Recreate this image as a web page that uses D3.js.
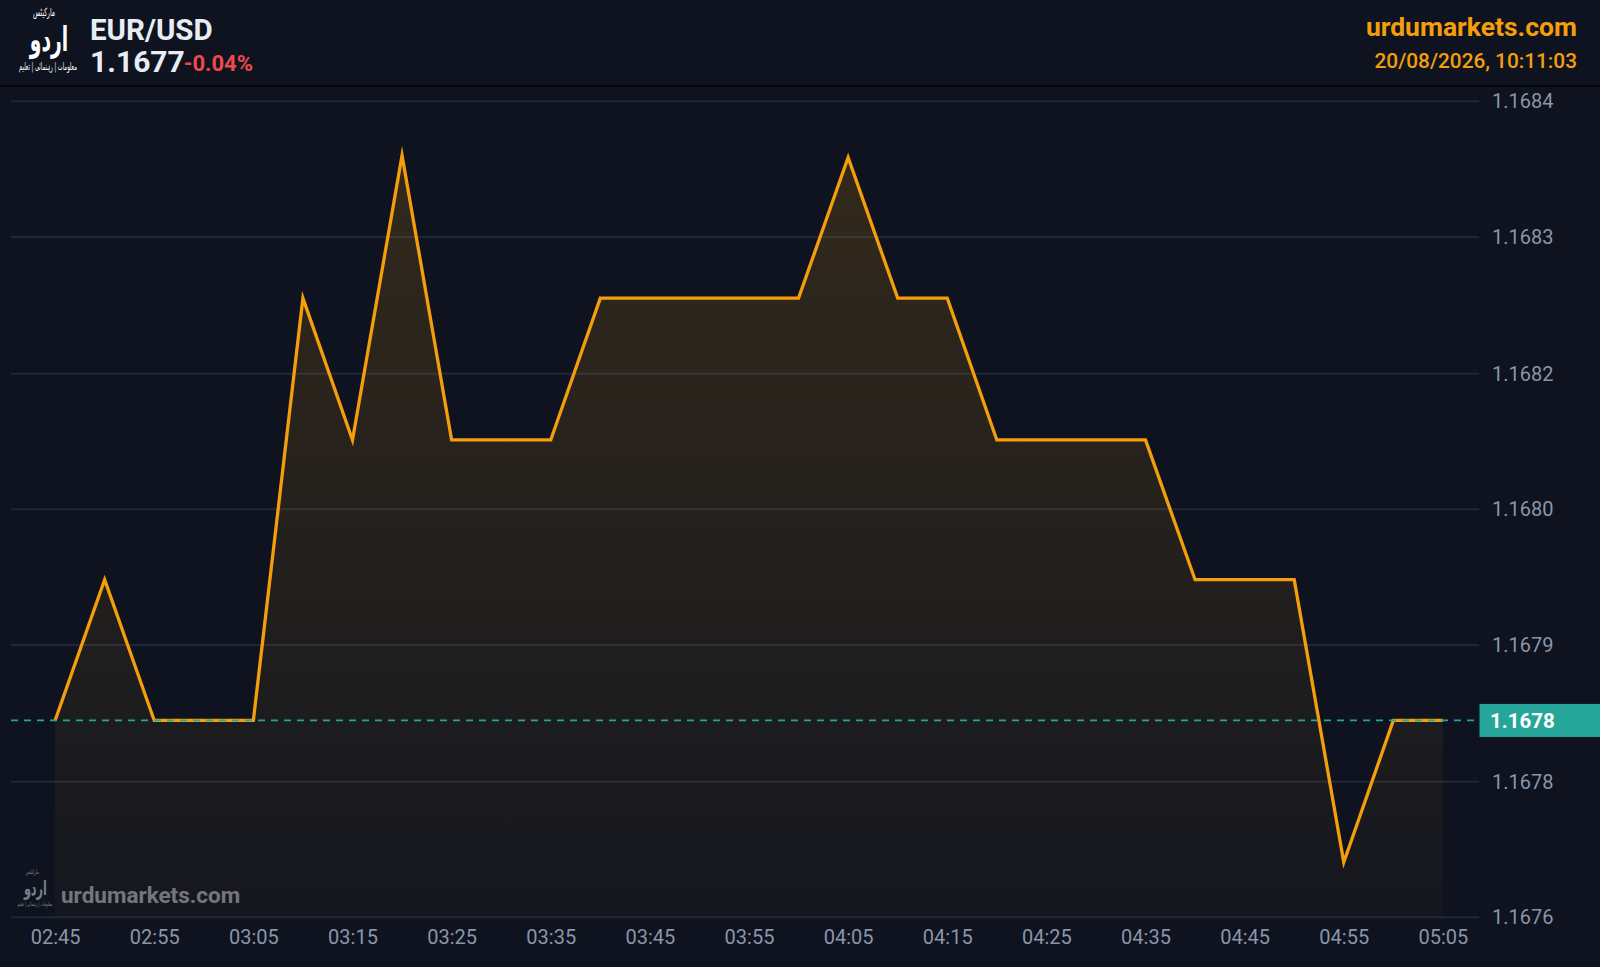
<!DOCTYPE html>
<html>
<head>
<meta charset="utf-8">
<script src="https://cdn.jsdelivr.net/npm/d3@7"></script>
<style>
  html, body { margin: 0; padding: 0; background: #0e131f; overflow: hidden; }
  svg { display: block; }
  text { font-family: Roboto, "Noto Sans", sans-serif; }
</style>
</head>
<body>
<svg id="chart" width="1600" height="967"></svg>
<script>
// ---------- DATA ----------
const symbol = "EUR/USD";
const headerPrice = ["1.1677"];
const headerChange = ["-0.04%"];
const siteName = "urdumarkets.com";
const timestamp = "20/08/2026, 10:11:03";
const logoLines = ["مارکیٹس", "اردو", "معلومات | رہنمائی | تعلیم"];

const times = ["02:45","02:50","02:55","03:00","03:05","03:10","03:15","03:20","03:25","03:30",
               "03:35","03:40","03:45","03:50","03:55","04:00","04:05","04:10","04:15","04:20",
               "04:25","04:30","04:35","04:40","04:45","04:50","04:55","05:00","05:05"];
const values = [1.167813,1.167951,1.167813,1.167813,1.167813,1.168227,1.168088,1.168367,1.168088,1.168088,
                1.168088,1.168227,1.168227,1.168227,1.168227,1.168227,1.168365,1.168227,1.168227,1.168088,
                1.168088,1.168088,1.168088,1.167951,1.167951,1.167951,1.167674,1.167813,1.167813];

const xTickLabels = ["02:45","02:55","03:05","03:15","03:25","03:35","03:45","03:55","04:05","04:15","04:25","04:35","04:45","04:55","05:05"];
const yTickValues = [1.16762,1.167753,1.167887,1.16802,1.168153,1.168287,1.16842];

// ---------- LAYOUT ----------
const W = 1600, H = 967;
const plotLeft = 11, plotRight = 1479, plotBottom = 917.3;
const bg = "#0e131f";
const orange = "#f59e0b";
const teal = "#26a69a";
const axisGrey = "#8b95a8";
const gridColor = "#1f2739";

const svg = d3.select("#chart");
svg.append("rect").attr("width", W).attr("height", H).attr("fill", bg);

const parse = d3.timeParse("%H:%M");
const data = times.map((t, i) => ({ t: parse(t), v: values[i] }));

const x = d3.scaleTime()
  .domain([parse(times[0]), parse(times[times.length - 1])])
  .range([55.1, 1442.9]);
const y = d3.scaleLinear()
  .domain([yTickValues[0], yTickValues[yTickValues.length - 1]])
  .range([917.3, 101.3]);

// gridlines
svg.append("g").selectAll("line").data(yTickValues).join("line")
  .attr("x1", plotLeft).attr("x2", plotRight)
  .attr("y1", d => y(d)).attr("y2", d => y(d))
  .attr("stroke", gridColor).attr("stroke-width", 2);

// gradient
const defs = svg.append("defs");
const grad = defs.append("linearGradient").attr("id", "areaGrad")
  .attr("gradientUnits", "userSpaceOnUse")
  .attr("x1", 0).attr("x2", 0).attr("y1", y(d3.max(values))).attr("y2", plotBottom);
grad.append("stop").attr("offset", "0%").attr("stop-color", orange).attr("stop-opacity", 0.16);
grad.append("stop").attr("offset", "100%").attr("stop-color", orange).attr("stop-opacity", 0.03);

const area = d3.area().x(d => x(d.t)).y0(plotBottom).y1(d => y(d.v));
svg.append("path").datum(data).attr("d", area).attr("fill", "url(#areaGrad)");

const line = d3.line().x(d => x(d.t)).y(d => y(d.v));
svg.append("path").datum(data).attr("d", line)
  .attr("fill", "none").attr("stroke", orange).attr("stroke-width", 3.3)
  .attr("stroke-linejoin", "miter").attr("stroke-miterlimit", 10);

// current price dashed line
const last = values[values.length - 1];
svg.append("line")
  .attr("x1", plotLeft).attr("x2", plotRight)
  .attr("y1", y(last)).attr("y2", y(last))
  .attr("stroke", teal).attr("stroke-width", 1.8)
  .attr("stroke-dasharray", "7,6");

// y axis
const yAxis = d3.axisRight(y).tickValues(yTickValues).tickFormat(d => d.toFixed(4))
  .tickSize(0).tickPadding(13);
const yg = svg.append("g").attr("transform", `translate(${plotRight},0)`).call(yAxis);
yg.select(".domain").remove();
yg.selectAll("text").attr("fill", axisGrey).style("font-size", "20px")
  .style("font-family", "Roboto, sans-serif");

// x axis
const xAxis = d3.axisBottom(x).tickValues(xTickLabels.map(parse))
  .tickFormat(d3.timeFormat("%H:%M")).tickSize(0).tickPadding(13);
const xg = svg.append("g").attr("transform", `translate(0,${plotBottom})`).call(xAxis);
xg.select(".domain").remove();
xg.selectAll("text").attr("fill", axisGrey).style("font-size", "20px")
  .style("font-family", "Roboto, sans-serif");

// price box
svg.append("rect").attr("x", 1479.5).attr("y", y(last) - 16.5).attr("width", 121).attr("height", 33)
  .attr("fill", teal);
svg.append("text").attr("x", 1490).attr("y", y(last)).attr("dy", "0.36em")
  .attr("fill", "#ffffff").style("font-size", "20.5px").style("font-weight", 700)
  .text(last.toFixed(4));

// header
svg.append("rect").attr("x", 0).attr("y", 0).attr("width", W).attr("height", 85).attr("fill", bg);
svg.append("rect").attr("x", 0).attr("y", 85).attr("width", W).attr("height", 2).attr("fill", "#05070c");

svg.append("text").attr("x", 90).attr("y", 40).attr("fill", "#e8ecf3")
  .style("font-size", "29.5px").style("font-weight", 700).text(symbol);
const pt = svg.append("text").attr("x", 90).attr("y", 72).attr("fill", "#e8ecf3")
  .style("font-size", "30px").style("font-weight", 700).text(headerPrice[0]);
const pw = pt.node().getComputedTextLength();
svg.append("text").attr("x", 90 + pw - 1).attr("y", 71).attr("fill", "#ef4a4a")
  .style("font-size", "22px").style("font-weight", 700).text(headerChange[0]);

svg.append("text").attr("x", 1577).attr("y", 36).attr("text-anchor", "end").attr("fill", orange)
  .style("font-size", "26.5px").style("font-weight", 700).text(siteName);
svg.append("text").attr("x", 1577).attr("y", 68).attr("text-anchor", "end").attr("fill", orange)
  .style("font-size", "20.8px").style("font-weight", 500).text(timestamp);

// logo (origin: horizontal centre of logo, top of header)
function logo(g, color) {
  const f = "DejaVu Sans, sans-serif";
  g.append("text").attr("transform", "translate(-4,15.5) scale(0.7,1.3)").attr("text-anchor", "middle")
    .attr("fill", color).style("font-family", f).style("font-size", "8.6px").text(logoLines[0]);
  g.append("text").attr("transform", "translate(1,50.5) scale(0.78,1.4)").attr("text-anchor", "middle")
    .attr("fill", color).style("font-family", f).style("font-size", "24px").style("font-weight", 700).text(logoLines[1]);
  g.append("text").attr("transform", "translate(0,69.5) scale(0.7,1.4)").attr("text-anchor", "middle")
    .attr("fill", color).style("font-family", f).style("font-size", "7.5px").text(logoLines[2]);
}
const lg = svg.append("g").attr("transform", "translate(48,0)");
logo(lg, "#ffffff");

// watermark
const wm = svg.append("g").attr("opacity", 0.55);
const wl = wm.append("g").attr("transform", "translate(34.8,864.5) scale(0.6)");
logo(wl, "#d0d4dc");
wm.append("text").attr("x", 61).attr("y", 903).attr("fill", "#c0c4cc")
  .style("font-size", "22.5px").style("font-weight", 700).text(siteName);
</script>
</body>
</html>
